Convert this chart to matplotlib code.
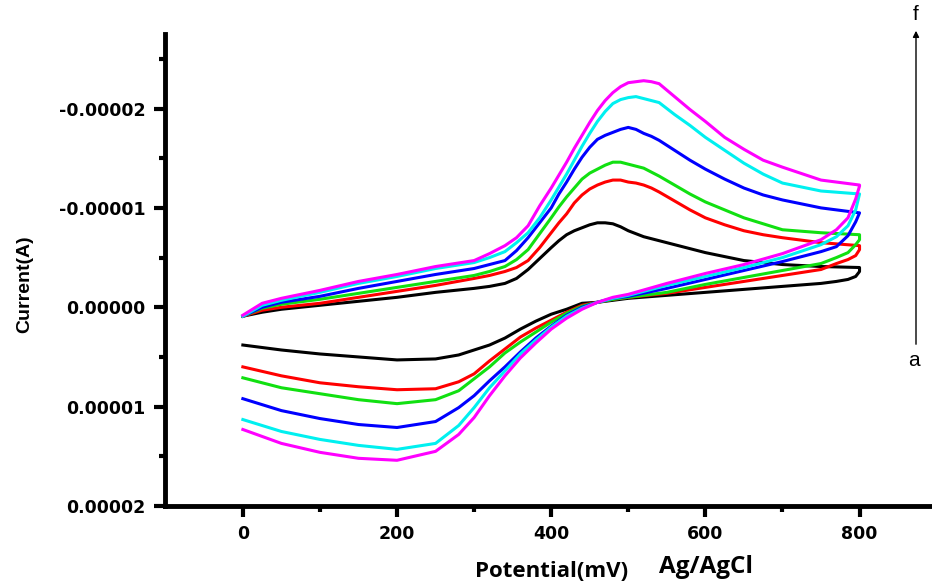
import matplotlib
matplotlib.use('Agg')
import numpy as np
from matplotlib import pyplot as plt
from matplotlib.ticker import FixedLocator, FuncFormatter

# potential grids (mV) for the forward (0 -> 800) and reverse (800 -> 0) sweeps
fwd_mv = [0, 25, 50, 100, 150, 200, 250, 300, 320, 340, 355, 370, 385, 400, 410, 420, 430,
          440, 450, 460, 470, 480, 490, 500, 510, 520, 530, 540, 560, 580, 600, 625, 650,
          675, 700, 750, 800]
rev_mv = [800, 795, 785, 770, 750, 700, 650, 600, 550, 500, 480, 460, 440, 420,
          400, 380, 360, 340, 320, 300, 280, 250, 200, 150, 100, 50, 0]

# currents in microamps, sign as on the axis (anodic shown negative, upward)
a_fwd = [0.9, 0.5, 0.2, -0.2, -0.6, -1.0, -1.5, -1.9, -2.1, -2.4, -2.9, -3.8, -4.9, -6.0, -6.7,
         -7.3, -7.7, -8.0, -8.3, -8.5, -8.5, -8.4, -8.1, -7.7, -7.4, -7.1, -6.9, -6.7, -6.3,
         -5.9, -5.5, -5.1, -4.7, -4.5, -4.3, -4.1, -4.0]
b_fwd = [0.9, 0.3, 0.0, -0.4, -1.0, -1.6, -2.2, -2.9, -3.2, -3.6, -4.0, -4.7, -6.0, -7.5, -8.5,
         -9.4, -10.5, -11.3, -11.9, -12.3, -12.6, -12.8, -12.8, -12.6, -12.5, -12.3, -12.0, -11.6,
         -10.7, -9.8, -9.0, -8.3, -7.7, -7.3, -7.0, -6.5, -6.2]
c_fwd = [0.9, 0.1, -0.3, -0.8, -1.4, -2.0, -2.6, -3.2, -3.6, -4.1, -4.8, -5.8, -7.4, -9.0, -10.1,
         -11.1, -12.0, -12.9, -13.5, -13.9, -14.3, -14.6, -14.6, -14.4, -14.2, -14.0, -13.6, -13.2,
         -12.3, -11.4, -10.6, -9.8, -9.0, -8.4, -7.8, -7.5, -7.3]
d_fwd = [0.9, 0.0, -0.5, -1.1, -1.9, -2.6, -3.3, -3.9, -4.3, -4.7, -5.7, -7.0, -8.5, -10.0, -11.4,
         -12.6, -13.9, -15.1, -16.1, -16.9, -17.3, -17.6, -17.9, -18.1, -17.9, -17.5, -17.2, -16.8,
         -15.8, -14.8, -13.9, -12.9, -12.0, -11.3, -10.8, -10.0, -9.5]
e_fwd = [0.9, -0.2, -0.7, -1.5, -2.4, -3.1, -3.9, -4.5, -5.0, -5.6, -6.5, -7.5, -9.0, -10.8, -12.1,
         -13.4, -14.8, -16.2, -17.5, -18.7, -19.7, -20.5, -20.9, -21.1, -21.2, -21.0, -20.8, -20.6,
         -19.4, -18.3, -17.1, -15.8, -14.5, -13.4, -12.5, -11.7, -11.4]
f_fwd = [0.8, -0.4, -0.9, -1.7, -2.6, -3.3, -4.1, -4.7, -5.4, -6.2, -7.0, -8.2, -10.2, -12.0, -13.3,
         -14.6, -16.0, -17.3, -18.6, -19.8, -20.8, -21.6, -22.2, -22.6, -22.7, -22.8, -22.7, -22.5,
         -21.2, -19.9, -18.7, -17.1, -15.9, -14.8, -14.1, -12.8, -12.3]

a_rev = [-3.6, -3.1, -2.8, -2.6, -2.4, -2.1, -1.8, -1.5, -1.2, -0.9, -0.7, -0.5, -0.4, 0.2,
         0.7, 1.4, 2.2, 3.1, 3.8, 4.3, 4.8, 5.2, 5.3, 5.0, 4.7, 4.3, 3.8]
b_rev = [-5.8, -5.2, -4.8, -4.4, -3.8, -3.2, -2.6, -2.0, -1.4, -1.0, -0.8, -0.5, -0.2, 0.5,
         1.3, 2.1, 3.0, 4.2, 5.4, 6.7, 7.5, 8.2, 8.3, 8.0, 7.6, 6.9, 6.0]
c_rev = [-6.8, -6.3, -5.5, -5.0, -4.4, -3.7, -3.0, -2.3, -1.5, -1.0, -0.8, -0.5, -0.1, 0.6,
         1.5, 2.5, 3.5, 4.6, 6.0, 7.2, 8.4, 9.3, 9.7, 9.3, 8.7, 8.1, 7.1]
d_rev = [-9.5, -8.6, -7.2, -6.1, -5.6, -4.6, -3.7, -2.8, -1.9, -1.1, -0.9, -0.5, 0.0, 0.8,
         1.9, 3.1, 4.5, 6.0, 7.4, 8.9, 10.1, 11.5, 12.1, 11.8, 11.2, 10.4, 9.2]
e_rev = [-11.4, -9.8, -8.2, -7.1, -6.3, -5.0, -4.0, -3.1, -2.2, -1.2, -0.9, -0.5, 0.1, 0.9,
         2.0, 3.3, 4.7, 6.4, 8.1, 10.1, 11.9, 13.7, 14.3, 13.9, 13.3, 12.5, 11.3]
f_rev = [-12.2, -10.9, -9.0, -7.8, -6.8, -5.4, -4.3, -3.4, -2.4, -1.3, -1.0, -0.5, 0.2, 1.1,
         2.2, 3.6, 5.1, 6.9, 8.9, 11.1, 12.8, 14.5, 15.4, 15.2, 14.6, 13.7, 12.3]

curves = [(a_fwd, a_rev, 'black'), (b_fwd, b_rev, '#ff0000'), (c_fwd, c_rev, '#11e011'),
          (d_fwd, d_rev, '#0000ff'), (e_fwd, e_rev, '#00f0f0'), (f_fwd, f_rev, '#ff00ff')]

y_major = [-2e-5, -1e-5, 0, 1e-5, 2e-5]
y_minor = [-2.5e-5, -1.5e-5, -0.5e-5, 0.5e-5, 1.5e-5]
x_major = [0, 200, 400, 600, 800]
x_minor = [100, 300, 500, 700]

fig = plt.figure(figsize=(9.32, 5.83), dpi=100)
ax = fig.add_axes([165 / 932, 77 / 583, 767 / 932, 472 / 583])

for fwd, rev, col in curves:
    x = np.array(fwd_mv + rev_mv)
    y = np.array(fwd + rev) * 1e-6
    ax.plot(x, y, color=col, lw=2.2, solid_joinstyle='round')

ax.set_xlim(-101, 894)
ax.set_ylim(2e-5, -2.75e-5)

ax.spines['top'].set_visible(False)
ax.spines['right'].set_visible(False)
ax.spines['left'].set_linewidth(3.5)
ax.spines['bottom'].set_linewidth(3.5)

ax.yaxis.set_major_locator(FixedLocator(y_major))
ax.yaxis.set_minor_locator(FixedLocator(y_minor))
ax.xaxis.set_major_locator(FixedLocator(x_major))
ax.xaxis.set_minor_locator(FixedLocator(x_minor))
ax.yaxis.set_major_formatter(FuncFormatter(lambda v, p: '%.5f' % v if abs(v) > 1e-9 else '0.00000'))

ax.tick_params(which='major', direction='out', length=8, width=3, pad=6)
ax.tick_params(which='minor', direction='out', length=4, width=3)
for lab in ax.get_xticklabels() + ax.get_yticklabels():
    lab.set_fontfamily('DejaVu Sans')
    lab.set_fontweight('bold')
    lab.set_fontsize(12.5)

fig.text(25 / 932, 1 - 284 / 583, 'Current(A)', rotation=90, ha='center', va='center',
         fontsize=14, fontweight='bold', family='Liberation Sans')
fig.text(552 / 932, 1 - 577 / 583, 'Potential(mV)', ha='center', va='baseline',
         fontsize=16, fontweight='bold', family='Open Sans')
fig.text(706 / 932, 1 - 573 / 583, 'Ag/AgCl', ha='center', va='baseline',
         fontsize=17.5, fontweight='bold', family='Open Sans')

# a -> f arrow on the right
fig.add_artist(matplotlib.patches.FancyArrowPatch(
    (916 / 932, 1 - 347 / 583), (916 / 932, 1 - 28 / 583), transform=fig.transFigure,
    arrowstyle='-|>', mutation_scale=9, lw=1, color='black'))
fig.text(916 / 932, 1 - 15 / 583, 'f', ha='center', va='center', fontsize=15, family='Liberation Sans')
fig.text(914 / 932, 1 - 361 / 583, 'a', ha='center', va='center', fontsize=15, family='Liberation Sans')

fig.savefig('out.png', dpi=100)
